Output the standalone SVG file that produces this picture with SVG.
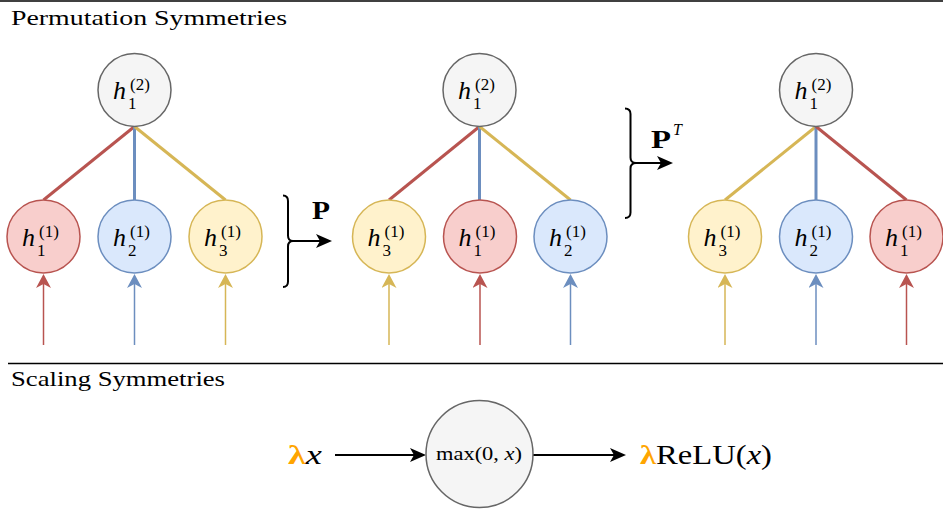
<svg xmlns="http://www.w3.org/2000/svg" width="943" height="512" viewBox="0 0 943 512">
<defs>
<style>
.title{font-family:'Liberation Serif','DejaVu Serif',serif;font-size:22px;fill:#000}
.m{font-family:'Liberation Serif','DejaVu Serif',serif;font-style:italic;fill:#000}
.r{font-family:'Liberation Serif','DejaVu Serif',serif;fill:#000}
.h{font-size:26px}
.s{font-size:17px;font-style:normal}
.red{fill:#f8cecc;stroke:#b85450;stroke-width:1.5}
.blue{fill:#dae8fc;stroke:#6c8ebf;stroke-width:1.5}
.yel{fill:#fff2cc;stroke:#d6b656;stroke-width:1.5}
.grey{fill:#f5f5f5;stroke:#666666;stroke-width:1.5}
.e{stroke-width:3;fill:none}
.in{stroke-width:1.5;fill:none}
.k{stroke:#000;stroke-width:2;fill:none}
.lam{fill:#FFA500}
</style>
<marker id="ar" markerUnits="userSpaceOnUse" markerWidth="15" markerHeight="15" refX="4" refY="7.5" orient="auto"><path d="M0,0 L14,7.5 L0,15 L4,7.5 Z" fill="#b85450"/></marker>
<marker id="ab" markerUnits="userSpaceOnUse" markerWidth="15" markerHeight="15" refX="4" refY="7.5" orient="auto"><path d="M0,0 L14,7.5 L0,15 L4,7.5 Z" fill="#6c8ebf"/></marker>
<marker id="ay" markerUnits="userSpaceOnUse" markerWidth="15" markerHeight="15" refX="4" refY="7.5" orient="auto"><path d="M0,0 L14,7.5 L0,15 L4,7.5 Z" fill="#d6b656"/></marker>
<marker id="ak" markerUnits="userSpaceOnUse" markerWidth="17" markerHeight="15" refX="4" refY="7" orient="auto"><path d="M0,0 L16,7 L0,14 L4,7 Z" fill="#000"/></marker>
</defs>
<rect width="943" height="512" fill="#fff"/>

<!-- section titles -->
<line x1="0" y1="1" x2="943" y2="1" stroke="#000" stroke-width="1.5"/>
<text class="title" x="11" y="25" textLength="276" lengthAdjust="spacingAndGlyphs">Permutation Symmetries</text>
<line x1="8" y1="363.5" x2="943" y2="363.5" stroke="#000" stroke-width="1.5"/>
<text class="title" x="11" y="386" textLength="214" lengthAdjust="spacingAndGlyphs">Scaling Symmetries</text>

<!-- connectors -->
<g id="connectors">
  <line class="e" x1="134.5" y1="126.5" x2="43.5" y2="200" stroke="#b85450"/>
  <line class="e" x1="134.5" y1="126.5" x2="134.5" y2="200" stroke="#6c8ebf"/>
  <line class="e" x1="134.5" y1="126.5" x2="225.5" y2="200" stroke="#d6b656"/>
  <line class="e" x1="479.5" y1="126.5" x2="389" y2="200" stroke="#b85450"/>
  <line class="e" x1="479.5" y1="126.5" x2="479.5" y2="200" stroke="#6c8ebf"/>
  <line class="e" x1="479.5" y1="126.5" x2="570.5" y2="200" stroke="#d6b656"/>
  <line class="e" x1="816" y1="126.5" x2="725" y2="200" stroke="#d6b656"/>
  <line class="e" x1="816" y1="126.5" x2="816" y2="200" stroke="#6c8ebf"/>
  <line class="e" x1="816" y1="126.5" x2="906.5" y2="200" stroke="#b85450"/>

  <line class="in" x1="43.5" y1="345" x2="43.5" y2="284" stroke="#b85450" marker-end="url(#ar)"/>
  <line class="in" x1="134.5" y1="345" x2="134.5" y2="284" stroke="#6c8ebf" marker-end="url(#ab)"/>
  <line class="in" x1="225.5" y1="345" x2="225.5" y2="284" stroke="#d6b656" marker-end="url(#ay)"/>
  <line class="in" x1="389" y1="345" x2="389" y2="284" stroke="#d6b656" marker-end="url(#ay)"/>
  <line class="in" x1="480" y1="345" x2="480" y2="284" stroke="#b85450" marker-end="url(#ar)"/>
  <line class="in" x1="570.5" y1="345" x2="570.5" y2="284" stroke="#6c8ebf" marker-end="url(#ab)"/>
  <line class="in" x1="725" y1="345" x2="725" y2="284" stroke="#d6b656" marker-end="url(#ay)"/>
  <line class="in" x1="816" y1="345" x2="816" y2="284" stroke="#6c8ebf" marker-end="url(#ab)"/>
  <line class="in" x1="906.5" y1="345" x2="906.5" y2="284" stroke="#b85450" marker-end="url(#ar)"/>

  <!-- brace P -->
  <path class="k" stroke-width="1.5" d="M283,195.5 Q288,195.5 288,201 L288,235.5 Q288,241 293,241 Q288,241 288,246.5 L288,281.5 Q288,287 283,287"/>
  <line class="k" x1="293" y1="241" x2="320" y2="241" marker-end="url(#ak)"/>
  <!-- brace P^T -->
  <path class="k" stroke-width="1.5" d="M625,108.5 Q630.5,108.5 630.5,114 L630.5,157.5 Q630.5,163 636,163 Q630.5,163 630.5,168.5 L630.5,212.5 Q630.5,218 625,218"/>
  <line class="k" x1="636" y1="163" x2="661" y2="163" marker-end="url(#ak)"/>

  <line class="k" x1="335" y1="455" x2="414" y2="455" marker-end="url(#ak)"/>
  <line class="k" x1="533" y1="455" x2="614" y2="455" marker-end="url(#ak)"/>
</g>

<text class="r" x="312" y="219" font-size="25" font-weight="bold" textLength="18" lengthAdjust="spacingAndGlyphs">P</text>
<text class="r" x="651" y="148" font-size="25" font-weight="bold" textLength="20" lengthAdjust="spacingAndGlyphs">P</text>
<text class="m" x="673" y="135" font-size="16">T</text>

<!-- group 1 -->
<g id="g1-top"><circle class="grey" cx="134.5" cy="90" r="36.5"/>
  <text class="m h" x="113" y="99">h</text><text class="m s" x="130" y="90">(2)</text><text class="m s" x="128" y="109">1</text></g>
<g id="g1-h1"><circle class="red" cx="43.5" cy="236.5" r="36.5"/>
  <text class="m h" x="22" y="245.5">h</text><text class="m s" x="39" y="236.5">(1)</text><text class="m s" x="37" y="255.5">1</text></g>
<g id="g1-h2"><circle class="blue" cx="134.5" cy="236.5" r="36.5"/>
  <text class="m h" x="113" y="245.5">h</text><text class="m s" x="130" y="236.5">(1)</text><text class="m s" x="128" y="255.5">2</text></g>
<g id="g1-h3"><circle class="yel" cx="225.5" cy="236.5" r="36.5"/>
  <text class="m h" x="204" y="245.5">h</text><text class="m s" x="221" y="236.5">(1)</text><text class="m s" x="219" y="255.5">3</text></g>

<!-- group 2 -->
<g id="g2-top"><circle class="grey" cx="479.5" cy="90" r="36.5"/>
  <text class="m h" x="458" y="99">h</text><text class="m s" x="475" y="90">(2)</text><text class="m s" x="473" y="109">1</text></g>
<g id="g2-h3"><circle class="yel" cx="389" cy="236.5" r="36.5"/>
  <text class="m h" x="367.5" y="245.5">h</text><text class="m s" x="384.5" y="236.5">(1)</text><text class="m s" x="382.5" y="255.5">3</text></g>
<g id="g2-h1"><circle class="red" cx="480" cy="236.5" r="36.5"/>
  <text class="m h" x="458.5" y="245.5">h</text><text class="m s" x="475.5" y="236.5">(1)</text><text class="m s" x="473.5" y="255.5">1</text></g>
<g id="g2-h2"><circle class="blue" cx="570.5" cy="236.5" r="36.5"/>
  <text class="m h" x="549" y="245.5">h</text><text class="m s" x="566" y="236.5">(1)</text><text class="m s" x="564" y="255.5">2</text></g>

<!-- group 3 -->
<g id="g3-top"><circle class="grey" cx="816" cy="90" r="36.5"/>
  <text class="m h" x="794.5" y="99">h</text><text class="m s" x="811.5" y="90">(2)</text><text class="m s" x="809.5" y="109">1</text></g>
<g id="g3-h3"><circle class="yel" cx="725" cy="236.5" r="36.5"/>
  <text class="m h" x="703.5" y="245.5">h</text><text class="m s" x="720.5" y="236.5">(1)</text><text class="m s" x="718.5" y="255.5">3</text></g>
<g id="g3-h2"><circle class="blue" cx="816" cy="236.5" r="36.5"/>
  <text class="m h" x="794.5" y="245.5">h</text><text class="m s" x="811.5" y="236.5">(1)</text><text class="m s" x="809.5" y="255.5">2</text></g>
<g id="g3-h1"><circle class="red" cx="906.5" cy="236.5" r="36.5"/>
  <text class="m h" x="885" y="245.5">h</text><text class="m s" x="902" y="236.5">(1)</text><text class="m s" x="900" y="255.5">1</text></g>

<!-- scaling -->
<g id="lx"><text class="r" x="288" y="464" font-size="28" textLength="34" lengthAdjust="spacingAndGlyphs"><tspan class="lam" font-weight="bold">λ</tspan><tspan font-style="italic">x</tspan></text></g>
<g id="relu"><circle class="grey" cx="479.5" cy="454" r="53.5"/>
  <text class="r" x="436" y="460" font-size="19" textLength="86" lengthAdjust="spacingAndGlyphs">max(0, <tspan font-style="italic">x</tspan>)</text></g>
<g id="out"><text class="r" x="640" y="464" font-size="28" textLength="132" lengthAdjust="spacingAndGlyphs"><tspan class="lam" font-weight="bold">λ</tspan>ReLU(<tspan font-style="italic">x</tspan>)</text></g>
</svg>
